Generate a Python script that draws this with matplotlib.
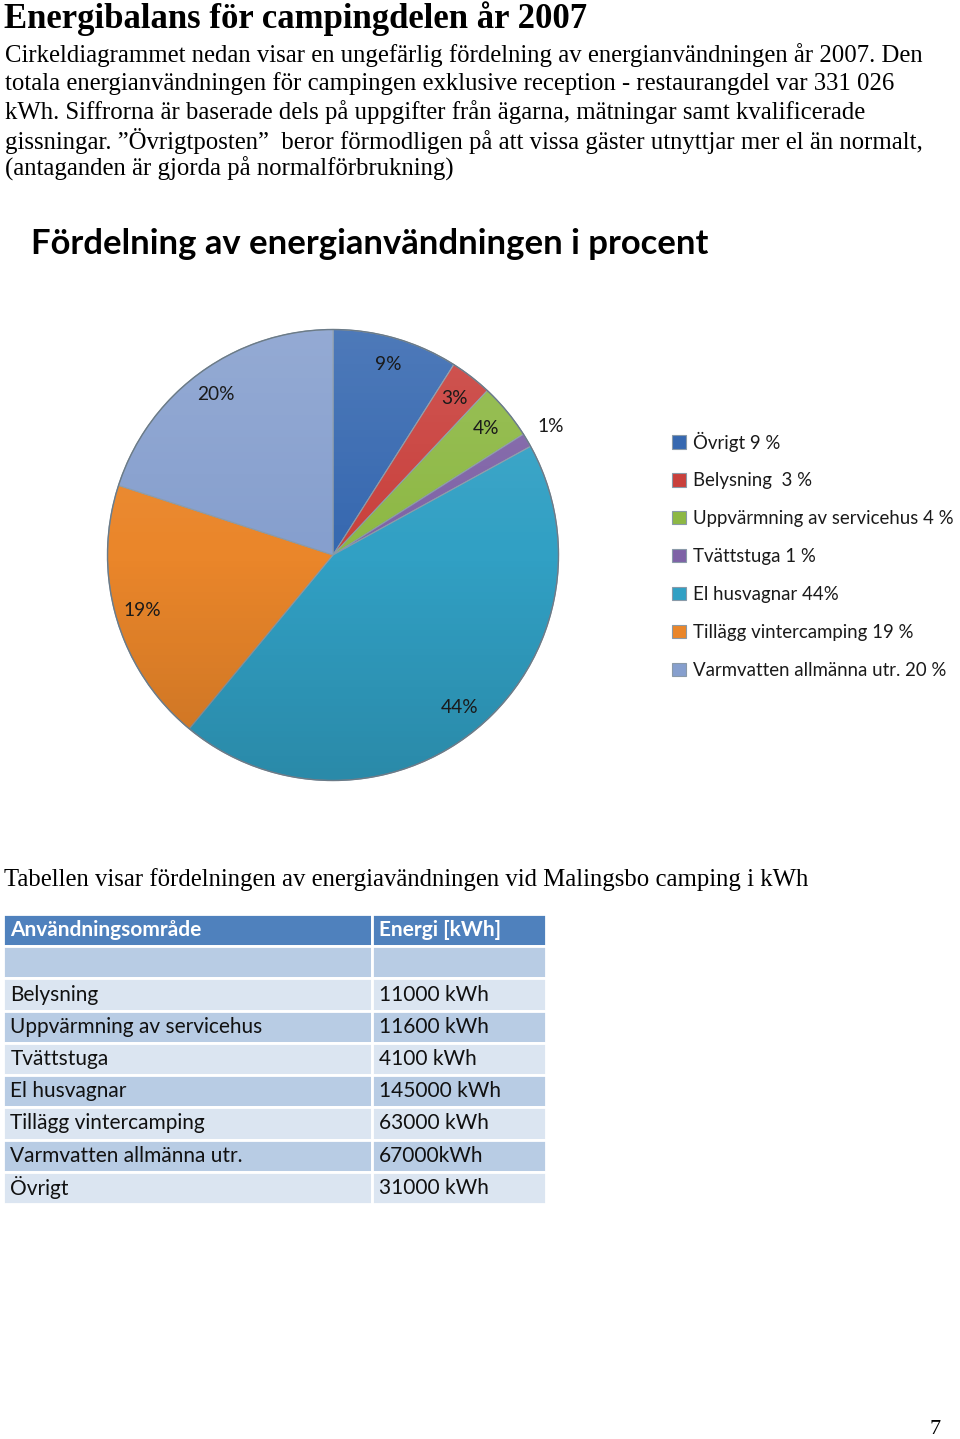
import numpy as np
import matplotlib
matplotlib.use("Agg")
import matplotlib.pyplot as plt
from matplotlib.patches import Circle

# ---- data ----
categories = ["Övrigt", "Belysning", "Uppvärmning av servicehus", "Tvättstuga",
              "El husvagnar", "Tillägg vintercamping", "Varmvatten allmänna utr."]
pie_percent = [9, 3, 4, 1, 44, 19, 20]
legend_labels = ["Övrigt 9 %", "Belysning  3 %", "Uppvärmning av servicehus 4 %",
                 "Tvättstuga 1 %", "El husvagnar 44%", "Tillägg vintercamping 19 %",
                 "Varmvatten allmänna utr. 20 %"]
colors = ["#3668B0", "#C9403C", "#8DB844", "#7E62A6", "#31A0C4", "#EA862A", "#869FCE"]

table_header = ["Användningsområde", "Energi [kWh]"]
table_rows = ["", "Belysning", "Uppvärmning av servicehus", "Tvättstuga", "El husvagnar",
              "Tillägg vintercamping", "Varmvatten allmänna utr.", "Övrigt"]
table_values = ["", "11000 kWh", "11600 kWh", "4100 kWh", "145000 kWh",
                "63000 kWh", "67000kWh", "31000 kWh"]

title = "Energibalans för campingdelen år 2007"
body_lines = [
    "Cirkeldiagrammet nedan visar en ungefärlig fördelning av energianvändningen år 2007. Den",
    "totala energianvändningen för campingen exklusive reception - restaurangdel var 331 026",
    "kWh. Siffrorna är baserade dels på uppgifter från ägarna, mätningar samt kvalificerade",
    "gissningar. \u201dÖvrigtposten\u201d  beror förmodligen på att vissa gäster utnyttjar mer el än normalt,",
    "(antaganden är gjorda på normalförbrukning)",
]
chart_title = "Fördelning av energianvändningen i procent"
table_caption = "Tabellen visar fördelningen av energiavändningen vid Malingsbo camping i kWh"
page_number = "7"

W, H = 960, 1439
fig = plt.figure(figsize=(W / 100, H / 100), dpi=100)
fig.patch.set_facecolor("white")

def fx(x):
    return x / W

def fy(y):
    return 1 - y / H

serif = "Liberation Serif"
sans = ["Lato", "DejaVu Sans"]

# ---- document text ----
fig.text(fx(4), fy(19), title, fontsize=25, fontweight="bold", family=serif,
         va="center", ha="left", color="black")
for i, line in enumerate(body_lines):
    fig.text(fx(5), fy(55 + i * 28.5), line, fontsize=17.8, family=serif,
             va="center", ha="left", color="black")

fig.text(fx(31), fy(244), chart_title, fontsize=24.9, fontweight="bold", family=sans,
         va="center", ha="left", color="black")

# ---- pie ----
cx, cy, r = 333, 555, 230
ax = fig.add_axes([fx(cx - r), fy(cy + r), 2 * r / W, 2 * r / H])
wedges, texts, autotexts = ax.pie(
    pie_percent, colors=colors, startangle=90, counterclock=False,
    autopct=lambda p: f"{p:.0f}%", pctdistance=0.88,
    wedgeprops=dict(edgecolor="#8a9aa8", linewidth=0.8),
    textprops=dict(fontsize=13.8, family=sans, color="#1a1a1a"))
ax.set_xlim(-1.02, 1.02)
ax.set_ylim(-1.02, 1.02)
ax.set_aspect("auto")
ax.axis("off")

# small slice label outside
for w, t, v in zip(wedges, autotexts, pie_percent):
    if v < 2:
        ang = np.deg2rad((w.theta1 + w.theta2) / 2)
        t.set_position((1.12 * np.cos(ang), 1.12 * np.sin(ang)))

# shading overlay
grad = np.zeros((256, 2, 4))
tvals = np.linspace(0, 1, 256)
for i, tt in enumerate(tvals):
    if tt < 0.5:
        grad[i] = [1, 1, 1, 0.12 * (1 - tt / 0.5)]
    else:
        grad[i] = [0, 0, 0, 0.14 * ((tt - 0.5) / 0.5)]
im = ax.imshow(grad, extent=(-1, 1, -1, 1), origin="upper", zorder=3, aspect="auto")
clip = Circle((0, 0), 1, transform=ax.transData)
im.set_clip_path(clip)
ax.add_patch(Circle((0, 0), 1, fill=False, edgecolor="#6b7b88", linewidth=1.0, zorder=4))
for t in autotexts:
    t.set_zorder(5)

# legend
leg = fig.legend(wedges, legend_labels, loc="upper left",
                 bbox_to_anchor=(fx(665), fy(424)), frameon=False,
                 prop=dict(family=sans, size=13.4), handlelength=0.72, handleheight=0.72,
                 handletextpad=0.4, labelspacing=1.12, borderaxespad=0)
for txt in leg.get_texts():
    txt.set_color("#1a1a1a")

# ---- table caption ----
fig.text(fx(4), fy(880), table_caption, fontsize=17.8, family=serif,
         va="center", ha="left", color="black")

# ---- table ----
tx0, tx1, ty0, ty1 = 3, 546, 914, 1204
tax = fig.add_axes([fx(tx0), fy(ty1), (tx1 - tx0) / W, (ty1 - ty0) / H])
tax.axis("off")
cell_text = [[a, b] for a, b in zip(table_rows, table_values)]
row_colors = []
for i in range(len(table_rows)):
    c = "#B8CCE4" if i % 2 == 0 else "#DBE5F1"
    row_colors.append([c, c])
tbl = tax.table(cellText=cell_text, colLabels=table_header, cellColours=row_colors,
                colColours=["#4F81BD", "#4F81BD"], cellLoc="left", colLoc="left",
                colWidths=[369 / 543, 174 / 543], bbox=[0, 0, 1, 1])
tbl.auto_set_font_size(False)
for (rr, cc), cell in tbl.get_celld().items():
    cell.set_edgecolor("white")
    cell.set_linewidth(2)
    cell.PAD = 0.02 if cc == 0 else 0.04
    txt = cell.get_text()
    txt.set_fontfamily(sans)
    txt.set_fontsize(15)
    txt.set_color("#111111")
    if rr == 0:
        txt.set_color("white")
        txt.set_fontweight("bold")

fig.text(fx(935), fy(1430), page_number, fontsize=16, family=serif,
         va="center", ha="center", color="black")

fig.savefig("out.png", dpi=100, facecolor="white")
